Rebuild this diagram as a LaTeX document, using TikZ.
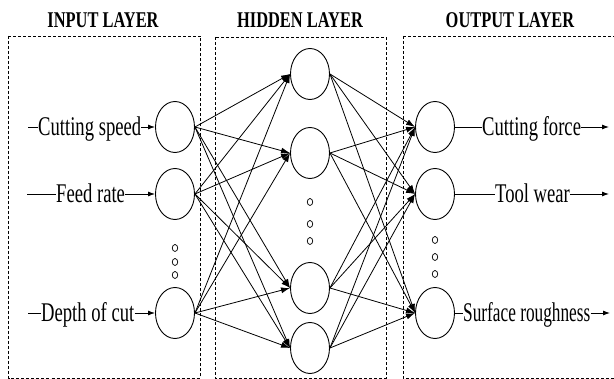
\documentclass[tikz,border=0pt]{standalone}
\usepackage{graphicx}
\usepackage{fontspec}
\setmainfont{Liberation Serif}
\usetikzlibrary{shapes.geometric,arrows.meta}
\newcommand{\squeezetxt}[2]{\scalebox{#1}[1]{#2}}
\tikzset{
  neuron/.style={draw, ellipse, minimum width=39pt, minimum height=51pt, inner sep=0pt, line width=0.9pt},
  dotc/.style={draw, ellipse, minimum width=5.5pt, minimum height=7pt, inner sep=0pt, line width=0.7pt},
  layerbox/.style={draw, line width=0.8pt, dash pattern=on 3pt off 2pt},
  title/.style={font=\fontsize{22.5}{22.5}\selectfont\bfseries, anchor=base, inner sep=0pt},
  lab/.style={font=\fontsize{27}{27}\selectfont, inner sep=0pt, text height=17.9pt, text depth=0pt},
  conn/.style={line width=0.8pt, -{Latex[length=9pt,width=6pt]}},
  io/.style={line width=0.9pt, -{Latex[length=7pt,width=5pt]}},
  plain/.style={line width=0.9pt}
}
\begin{document}
\begin{tikzpicture}[x=1pt,y=-1pt]
\useasboundingbox (0,0) rectangle (614,379);
\fill[white] (0,0) rectangle (614,379);
% layer boxes
\draw[layerbox] (8.5,36) rectangle (200,378);
\draw[layerbox] (215,37) rectangle (386,378);
\draw[layerbox] (403,36) -- (620,36);
\draw[layerbox] (403,36) -- (403,378) -- (620,378);
% titles
\node[title] (t1) at (103,28) {\squeezetxt{0.73}{INPUT LAYER}};
\node[title] (t2) at (300,28) {\squeezetxt{0.73}{HIDDEN LAYER}};
\node[title] (t3) at (510,28) {\squeezetxt{0.73}{OUTPUT LAYER}};
% neurons
\node[neuron] (i1) at (175,127) {};
\node[neuron] (i2) at (175,194) {};
\node[neuron] (i3) at (175,313) {};
\node[neuron] (h1) at (310,74) {};
\node[neuron] (h2) at (310,153) {};
\node[neuron] (h3) at (310,288) {};
\node[neuron] (h4) at (310,348) {};
\node[neuron] (o1) at (435,127) {};
\node[neuron] (o2) at (435,194) {};
\node[neuron] (o3) at (435,313) {};
% dots
\node[dotc] (di1) at (175,248) {};
\node[dotc] (di2) at (175,262) {};
\node[dotc] (di3) at (175,275) {};
\node[dotc] (dh1) at (310,202) {};
\node[dotc] (dh2) at (310,224) {};
\node[dotc] (dh3) at (310,241) {};
\node[dotc] (do1) at (435,240) {};
\node[dotc] (do2) at (435,257) {};
\node[dotc] (do3) at (435,274) {};
% connections
\foreach \i in {i1,i2,i3}{
  \foreach \h in {h1,h2,h3,h4}{
    \draw[conn] (\i.east) -- (\h.west);
  }
}
\foreach \h in {h1,h2,h3,h4}{
  \foreach \o in {o1,o2,o3}{
    \draw[conn] (\h.east) -- (\o.west);
  }
}
% input labels
\coordinate (s1) at (28,127);
\coordinate (s2) at (27,194);
\coordinate (s3) at (28,313);
\node[lab, anchor=west] (l1) at (38,127) {\squeezetxt{0.69}{Cutting speed}};
\node[lab, anchor=west] (l2) at (56,194) {\squeezetxt{0.69}{Feed rate}};
\node[lab, anchor=west] (l3) at (41,313) {\squeezetxt{0.69}{Depth of cut}};
\draw[plain] (s1) -- (l1.west);
\draw[plain] (s2) -- (l2.west);
\draw[plain] (s3) -- (l3.west);
\draw[io] (l1.east) -- (i1.west);
\draw[io] (l2.east) -- (i2.west);
\draw[io] (l3.east) -- (i3.west);
% output labels
\coordinate (e1) at (609,127);
\coordinate (e2) at (609,194);
\coordinate (e3) at (610,313);
\node[lab, anchor=west] (r1) at (482,127) {\squeezetxt{0.69}{Cutting force}};
\node[lab, anchor=west] (r2) at (495,194) {\squeezetxt{0.69}{Tool wear}};
\node[lab, anchor=west] (r3) at (463,313) {\squeezetxt{0.64}{Surface roughness}};
\draw[plain] (o1.east) -- (r1.west);
\draw[plain] (o2.east) -- (r2.west);
\draw[plain] (o3.east) -- (r3.west);
\draw[io] (r1.east) -- (e1);
\draw[io] (r2.east) -- (e2);
\draw[io] (r3.east) -- (e3);
\end{tikzpicture}
\end{document}
